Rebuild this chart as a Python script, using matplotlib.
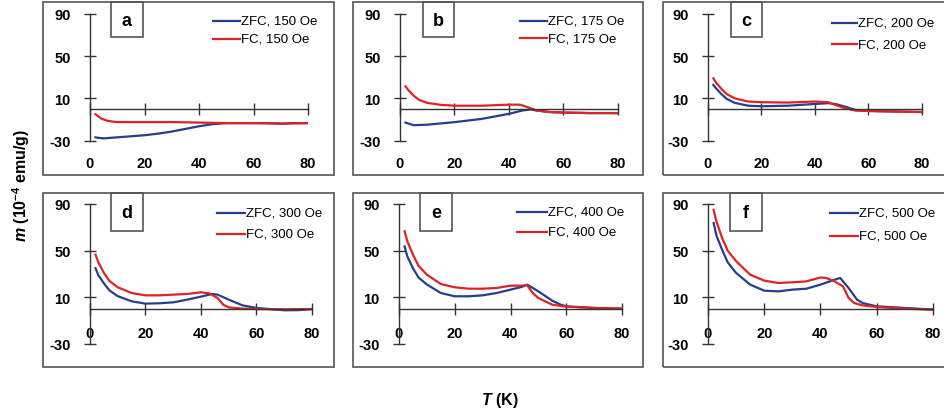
import matplotlib
matplotlib.use("Agg")
import matplotlib.pyplot as plt
from matplotlib.patches import Rectangle
from matplotlib.lines import Line2D

# data: temperature (K) and moment (1e-4 emu/g)
fields = [150, 175, 200, 300, 400, 500]
letters = ["a", "b", "c", "d", "e", "f"]

a_T_zfc = [2, 3, 5, 10, 15, 20, 25, 30, 35, 40, 45, 50, 55, 60, 65, 70, 75, 80]
a_zfc = [-27, -27.5, -28, -27, -26, -25, -23.5, -21.5, -19, -16.5, -14.5, -13.5, -13.5, -13.5, -13.5, -14, -13.5, -13.5]
a_T_fc = [2, 3, 4, 6, 8, 10, 15, 20, 30, 40, 50, 60, 70, 80]
a_fc = [-5, -7, -9, -11, -12, -12.5, -12.5, -12.5, -12.5, -13, -13.5, -13.5, -14, -13.5]

b_T_zfc = [2, 5, 10, 20, 30, 40, 45, 48, 50, 55, 60, 70, 80]
b_zfc = [-13, -15.5, -15, -12.6, -9.5, -4.7, -1.5, -0.5, -1.5, -3, -3.5, -4, -4]
b_T_fc = [2, 3, 5, 7, 10, 15, 20, 30, 40, 44, 47, 50, 55, 60, 70, 80]
b_fc = [21.5, 18, 12.6, 8.5, 5.7, 3.8, 3, 3, 4, 4, 1.5, -1.5, -3, -3.5, -4, -4]

c_T_zfc = [2, 3, 5, 7, 10, 15, 20, 30, 40, 45, 48, 52, 55, 60, 70, 80]
c_zfc = [22.7, 19.5, 14, 9.5, 5.7, 3, 2.5, 3, 4.7, 5.4, 4.4, 1.6, -1, -2, -2.5, -3]
c_T_fc = [2, 3, 5, 7, 10, 15, 20, 30, 40, 45, 50, 55, 60, 70, 80]
c_fc = [29, 25, 19, 14, 10, 7, 6.3, 6, 7, 6.3, 1.6, -1.6, -2, -2.5, -3]

d_T_zfc = [2, 3, 5, 7, 10, 15, 20, 25, 30, 35, 40, 44, 46, 50, 55, 60, 70, 75, 80]
d_zfc = [35, 29, 22, 16, 11, 6.6, 4.6, 4.9, 5.7, 8, 10.6, 12.9, 12.3, 8, 3.1, 0.9, -1.1, -1, 0]
d_T_fc = [2, 3, 5, 7, 10, 15, 20, 25, 30, 35, 40, 43, 46, 48, 50, 55, 60, 70, 80]
d_fc = [46.6, 40, 31, 24, 18.6, 13.7, 11.7, 11.7, 12.3, 12.9, 14.3, 13.4, 9.4, 3.7, 1.4, 0.3, 0, -0.3, 0]

e_T_zfc = [2, 3, 5, 7, 10, 15, 20, 25, 30, 35, 40, 44, 46, 50, 55, 58, 60, 70, 80]
e_zfc = [53.7, 45, 35, 27, 21, 13.7, 10.9, 10.9, 11.7, 13.7, 16.6, 18.9, 20.9, 15.1, 7.1, 3.7, 2.3, 0.9, 0.3]
e_T_fc = [2, 3, 5, 7, 10, 15, 20, 25, 30, 35, 40, 44, 46, 48, 50, 55, 60, 70, 80]
e_fc = [66.6, 58, 46.6, 37, 29.4, 21.4, 18.6, 17.4, 17.4, 18, 20, 20, 20.3, 13.7, 9.4, 3.7, 2, 0.9, 0.3]

f_T_zfc = [2, 3, 5, 7, 10, 15, 20, 25, 30, 35, 40, 44, 47, 50, 53, 55, 60, 70, 80]
f_zfc = [73.7, 63, 50.9, 40, 30.9, 20.9, 15.7, 15.1, 16.6, 17.4, 20.9, 24.3, 26.6, 18, 8, 5.1, 2.3, 0.9, -0.5]
f_T_fc = [2, 3, 5, 7, 10, 15, 20, 25, 30, 35, 40, 42, 45, 48, 50, 52, 55, 60, 70, 80]
f_fc = [85, 75, 61, 50, 41, 29.4, 24.3, 22.3, 22.9, 23.7, 27, 26.6, 23.7, 19.4, 9.4, 5.1, 3.1, 1.7, 0.3, -0.6]

zfc_T = [a_T_zfc, b_T_zfc, c_T_zfc, d_T_zfc, e_T_zfc, f_T_zfc]
zfc_m = [a_zfc, b_zfc, c_zfc, d_zfc, e_zfc, f_zfc]
fc_T = [a_T_fc, b_T_fc, c_T_fc, d_T_fc, e_T_fc, f_T_fc]
fc_m = [a_fc, b_fc, c_fc, d_fc, e_fc, f_fc]

x_ticks = [0, 20, 40, 60, 80]
y_ticks = [-30, 10, 50, 90]

W, H = 945, 414
BLUE = "#243f8c"
RED = "#de2228"
GREY = "#555555"

plt.rcParams["font.family"] = ["Liberation Sans", "DejaVu Sans"]
plt.rcParams["axes.unicode_minus"] = False
plt.rcParams["mathtext.fontset"] = "custom"
plt.rcParams["mathtext.rm"] = "Liberation Sans:bold"
plt.rcParams["mathtext.it"] = "Liberation Sans:bold:italic"

fig = plt.figure(figsize=(W / 100, H / 100), dpi=100)


def fx(px):
    return px / W


def fy(py):
    return 1 - py / H


# layout in pixels (left, right of x axis; top, bottom of y axis)
plot_x = [(90, 308), (400, 618), (708, 922), (90, 312), (399, 622), (708, 933)]
row_y = [(15, 141.5), (205, 345)]
frame_x = [(43, 334), (353, 643), (663, 960)]
frame_y = [(3, 176), (194, 368)]
letter_x = [(111, 143), (423, 454), (731, 762), (111, 143), (420, 452), (730, 762)]
legend_pos = [(213, 240, 22, 40), (520, 547, 22, 39), (832, 857, 24, 45),
              (217, 245, 214, 235), (517, 547, 213, 233), (830, 858, 214, 237)]
x_pad = [30, 8]

for i in range(6):
    row, col = divmod(i, 3)
    # outer frame
    fx0, fx1 = frame_x[col]
    fy0, fy1 = frame_y[row]
    fig.add_artist(Rectangle((fx(fx0), fy(fy1)), fx(fx1 - fx0), (fy1 - fy0) / H,
                             transform=fig.transFigure, fill=False,
                             edgecolor=GREY, linewidth=1.2))

    x0, x1 = plot_x[i]
    y0, y1 = row_y[row]
    ax = fig.add_axes([fx(x0), fy(y1), fx(x1 - x0), (y1 - y0) / H])
    ax.patch.set_alpha(0)
    ax.plot(zfc_T[i], zfc_m[i], color=BLUE, lw=1.6)
    ax.plot(fc_T[i], fc_m[i], color=RED, lw=1.6)
    ax.set_xlim(0, 80)
    ax.set_ylim(-30, 90)
    ax.spines["top"].set_visible(False)
    ax.spines["right"].set_visible(False)
    ax.spines["bottom"].set_position(("data", 0))
    for s in ("left", "bottom"):
        ax.spines[s].set_color("#333333")
        ax.spines[s].set_linewidth(1.0)
    ax.set_xticks(x_ticks)
    ax.set_yticks(y_ticks)
    ax.tick_params(axis="both", direction="inout", length=8, width=1.0,
                   color="#333333", labelsize=10.5)
    ax.tick_params(axis="y", pad=10)
    ax.tick_params(axis="x", pad=x_pad[row])
    for lab in ax.get_xticklabels() + ax.get_yticklabels():
        lab.set_fontweight("bold")

    # panel letter box
    lx0, lx1 = letter_x[i]
    ly0, ly1 = (fy0, fy0 + 35 + 3 * row)
    fig.add_artist(Rectangle((fx(lx0), fy(ly1)), fx(lx1 - lx0), (ly1 - ly0) / H,
                             transform=fig.transFigure, fill=False,
                             edgecolor=GREY, linewidth=1.2))
    fig.text(fx((lx0 + lx1) / 2), fy((ly0 + ly1) / 2 + 1), letters[i],
             ha="center", va="center", fontsize=13, fontweight="bold")

    # legend
    hx0, hx1, ry0, ry1 = legend_pos[i]
    for ry, col_, lab in ((ry0, BLUE, "ZFC"), (ry1, RED, "FC")):
        fig.add_artist(Line2D([fx(hx0), fx(hx1)], [fy(ry), fy(ry)],
                              transform=fig.transFigure, color=col_, lw=1.6))
        fig.text(fx(hx1 + 1), fy(ry), f"{lab}, {fields[i]} Oe",
                 ha="left", va="center", fontsize=9.5)

fig.text(fx(21), fy(185), r"$m$ (10$^{-4}$ emu/g)", rotation=90,
         ha="center", va="center", fontsize=11.5, fontweight="bold")
fig.text(fx(500), fy(401), r"$T$ (K)", ha="center", va="center",
         fontsize=11.5, fontweight="bold")

fig.savefig("out.png", dpi=100)
